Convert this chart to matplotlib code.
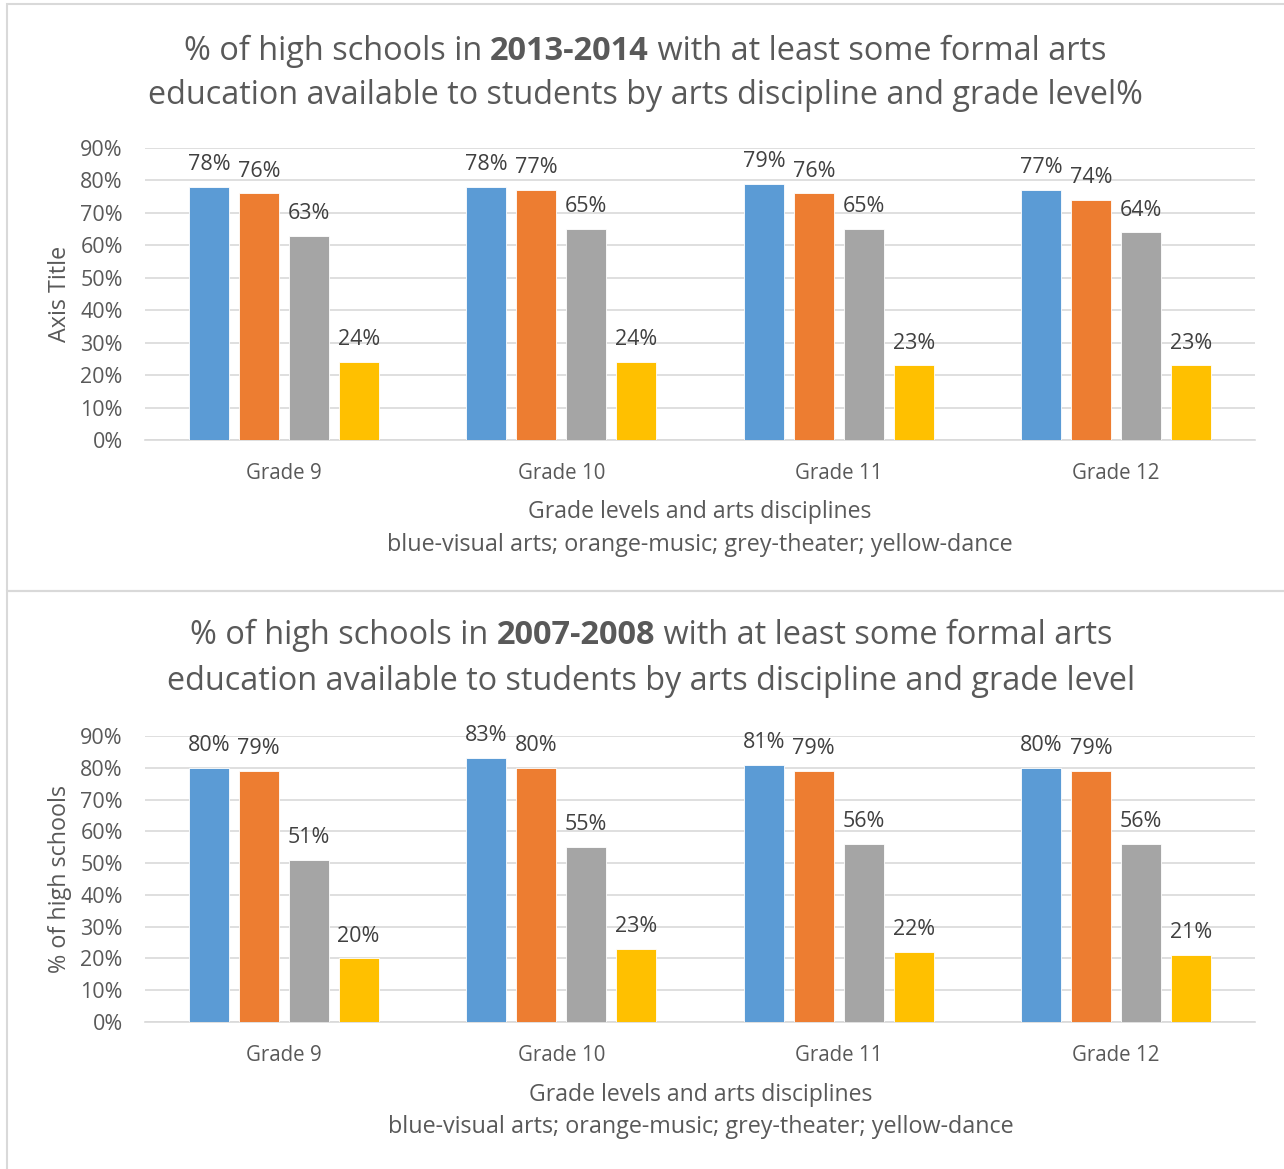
import matplotlib
matplotlib.use("Agg")
import matplotlib.pyplot as plt
from matplotlib.patches import Rectangle
import numpy as np

plt.rcParams['font.family'] = ['Open Sans', 'DejaVu Sans']

grades = ["Grade 9", "Grade 10", "Grade 11", "Grade 12"]
disciplines = ["visual arts", "music", "theater", "dance"]
colors = ["#5B9BD5", "#ED7D31", "#A5A5A5", "#FFC000"]

v2013_visual = [78, 78, 79, 77]
v2013_music = [76, 77, 76, 74]
v2013_theater = [63, 65, 65, 64]
v2013_dance = [24, 24, 23, 23]

v2008_visual = [80, 83, 81, 80]
v2008_music = [79, 80, 79, 79]
v2008_theater = [51, 55, 56, 56]
v2008_dance = [20, 23, 22, 21]

yticks = [0, 10, 20, 30, 40, 50, 60, 70, 80, 90]
ytick_labels = [f"{t}%" for t in yticks]

W, H = 1284, 1169
fig = plt.figure(figsize=(W / 100, H / 100), dpi=100)

TXT = "#595959"
LBL = "#404040"

# panel frames
fig.patches.append(Rectangle((7 / W, 1 - 591 / H), 1.2, (591 - 4) / H, transform=fig.transFigure,
                             fill=False, edgecolor="#d9d9d9", lw=1.5))
fig.patches.append(Rectangle((7 / W, -0.1), 1.2, 0.1 + (1169 - 591) / H, transform=fig.transFigure,
                             fill=False, edgecolor="#d9d9d9", lw=1.5))


def draw_panel(rect, series, ylabel):
    ax = fig.add_axes(rect)
    x = np.arange(len(grades))
    step = 0.18
    width = 0.144
    for i, (vals, c) in enumerate(zip(series, colors)):
        off = (i - 1.5) * step
        bars = ax.bar(x + off, vals, width, color=c, edgecolor="white", linewidth=0.6, zorder=3)
        ax.bar_label(bars, labels=[f"{v}%" for v in vals], padding=8.5, fontsize=15.5, color=LBL)
    ax.set_xlim(-0.5, 3.5)
    ax.set_ylim(0, 90)
    ax.set_yticks(yticks)
    ax.set_yticklabels(ytick_labels)
    ax.set_xticks(x)
    ax.set_xticklabels(grades)
    ax.tick_params(axis="both", length=0, labelsize=15.5, labelcolor=TXT)
    ax.tick_params(axis="x", labelsize=14.8, pad=16.5)
    ax.tick_params(axis="y", pad=16)
    ax.grid(axis="y", color="#d9d9d9", lw=1.2, zorder=0)
    for s in ["top", "right", "left"]:
        ax.spines[s].set_visible(False)
    ax.spines["bottom"].set_color("#d9d9d9")
    ax.spines["bottom"].set_linewidth(1.2)
    ax.set_ylabel(ylabel, fontsize=16.8, color=TXT, labelpad=6)
    return ax


ax1 = draw_panel([145 / W, 1 - 440 / H, 1110 / W, 292 / H],
                 [v2013_visual, v2013_music, v2013_theater, v2013_dance], "Axis Title")
ax2 = draw_panel([145 / W, 1 - 1022 / H, 1110 / W, 286 / H],
                 [v2008_visual, v2008_music, v2008_theater, v2008_dance], "% of high schools")


def rich_line(pieces, cx_px, cy_px, size):
    renderer = fig.canvas.get_renderer()
    texts = []
    widths = []
    for s, bold in pieces:
        t = fig.text(0, 0, s, fontsize=size, color=TXT, fontweight="bold" if bold else "normal",
                     va="center", ha="left")
        bb = t.get_window_extent(renderer)
        texts.append(t)
        widths.append(bb.width)
    total = sum(widths)
    x = cx_px - total / 2
    for t, w in zip(texts, widths):
        t.set_position((x / W, 1 - cy_px / H))
        x += w


rich_line([("% of high schools in ", False), ("2013-2014", True),
           (" with at least some formal arts", False)], 645, 51, 23.4)
fig.text(645 / W, 1 - 96 / H,
         "education available to students by arts discipline and grade level%",
         fontsize=23.3, color=TXT, ha="center", va="center")
fig.text(700 / W, 1 - 512 / H, "Grade levels and arts disciplines", fontsize=16.6,
         color=TXT, ha="center", va="center")
fig.text(700 / W, 1 - 545 / H, "blue-visual arts; orange-music; grey-theater; yellow-dance",
         fontsize=16.8, color=TXT, ha="center", va="center")

rich_line([("% of high schools in ", False), ("2007-2008", True),
           (" with at least some formal arts", False)], 651, 635, 23.4)
fig.text(651 / W, 1 - 681 / H,
         "education available to students by arts discipline and grade level",
         fontsize=23.3, color=TXT, ha="center", va="center")
fig.text(701 / W, 1 - 1095 / H, "Grade levels and arts disciplines", fontsize=16.6,
         color=TXT, ha="center", va="center")
fig.text(701 / W, 1 - 1127 / H, "blue-visual arts; orange-music; grey-theater; yellow-dance",
         fontsize=16.8, color=TXT, ha="center", va="center")

fig.savefig("out.png", dpi=100)
